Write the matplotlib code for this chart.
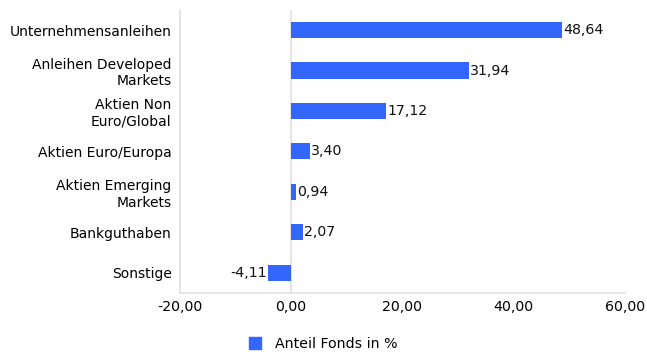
import matplotlib.pyplot as plt
from matplotlib.lines import Line2D

# Anteil Fonds in %, top to bottom
categories = ["Unternehmensanleihen", "Anleihen Developed\nMarkets", "Aktien Non\nEuro/Global",
              "Aktien Euro/Europa", "Aktien Emerging\nMarkets", "Bankguthaben", "Sonstige"]
values = [48.64, 31.94, 17.12, 3.40, 0.94, 2.07, -4.11]
xticks = [-20, 0, 20, 40, 60]

blue = "#3366ff"
grey = "#e0e0e0"
fs = 10.2

plt.rcParams["font.family"] = "DejaVu Sans"
fig = plt.figure(figsize=(6.47, 3.55), dpi=100)
ax = fig.add_axes([0.278, 0.175, 0.688, 0.797])

pos = list(range(len(categories)))
ax.barh(pos, values, height=0.4, color=blue, zorder=3)
ax.set_ylim(len(categories) - 0.5, -0.5)
ax.set_xlim(-20, 60)

def fmt(v):
    return f"{v:.2f}".replace(".", ",")

for p, v in zip(pos, values):
    if v >= 0:
        ax.text(v + 0.2, p, fmt(v), va="center", ha="left", fontsize=fs, color="#111111")
    else:
        ax.text(v - 0.2, p, fmt(v), va="center", ha="right", fontsize=fs, color="#111111")

ax.set_yticks(pos)
ax.set_yticklabels(categories, fontsize=10, ha="right", multialignment="right")
ax.set_xticks(xticks)
ax.set_xticklabels([fmt(t) for t in xticks], fontsize=fs)
ax.tick_params(axis="y", length=0, pad=6)
ax.tick_params(axis="x", length=0, pad=5)

ax.axvline(0, color=grey, lw=1.2, zorder=1)
for s in ["top", "right"]:
    ax.spines[s].set_visible(False)
for s in ["left", "bottom"]:
    ax.spines[s].set_color(grey)
    ax.spines[s].set_linewidth(1.2)

handle = Line2D([], [], marker="s", color=blue, linestyle="none", markersize=8)
fig.legend([handle], ["Anteil Fonds in %"], loc="center", bbox_to_anchor=(0.493, 0.03),
           frameon=False, fontsize=fs, handletextpad=0.4)

fig.savefig("out.png", dpi=100)
